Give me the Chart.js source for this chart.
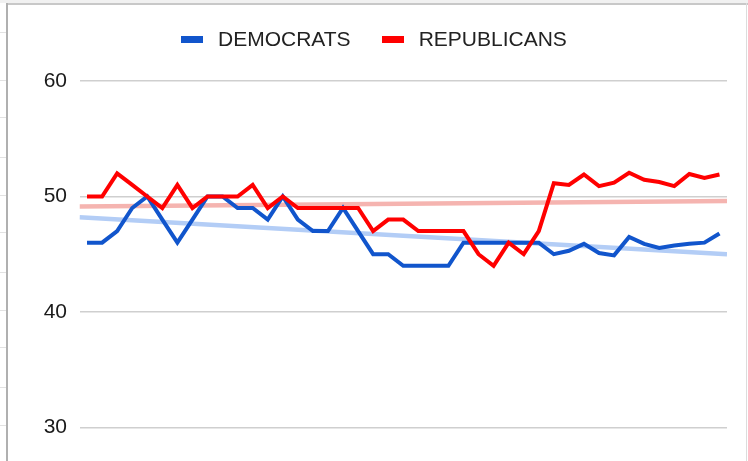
<!DOCTYPE html>
<html>
<head>
<meta charset="utf-8">
<script src="https://cdn.jsdelivr.net/npm/chart.js@4.4.1/dist/chart.umd.min.js"></script>
<style>
  html, body { margin: 0; padding: 0; background: #fff; overflow: hidden; width: 748px; height: 461px; }
  .sheet { position: absolute; background: #e2e2e2; }
  #wrap { position: absolute; left: 0; top: 0; width: 748px; height: 568px; }
  #legend { position: absolute; left: 181px; top: 28px; height: 22px; display: flex; align-items: center;
            font-family: "Liberation Sans", Arial, sans-serif; font-size: 21px; color: #222; }
  #legend .sw { display: inline-block; width: 22px; height: 7px; margin-right: 15px; }
  #legend .item { display: flex; align-items: center; margin-right: 31px; }
</style>
</head>
<body>
<div id="deco"></div>
<div id="wrap"><canvas id="grafico" width="748" height="568" style="width:748px;height:568px"></canvas></div>
<div id="legend">
  <span class="item"><span class="sw" style="background:#1155cc"></span>DEMOCRATS</span>
  <span class="item"><span class="sw" style="background:#ff0000"></span>REPUBLICANS</span>
</div>
<script>
// valores, uno por punto
const democratas = [46, 46, 47, 49, 50, 48, 46, 48, 50, 50, 49, 49, 48, 50, 48, 47, 47, 49, 47, 45, 45,
  44, 44, 44, 44, 46, 46, 46, 46, 46, 46, 45.0, 45.3, 45.9, 45.1, 44.9, 46.5, 45.9, 45.55, 45.75, 45.9, 46.0, 46.8];
const republicanos = [50, 50, 52, 51, 50, 49, 51, 49, 50, 50, 50, 51, 49, 50, 49, 49, 49, 49, 49, 47, 48,
  48, 47, 47, 47, 47, 45, 44, 46, 45, 47, 51.15, 51.0, 51.9, 50.9, 51.2, 52.05, 51.45, 51.25, 50.9, 51.95, 51.6, 51.9];

// líneas de tendencia (extremos)
const tendenciaX = [-0.5, 42.5];
const tendenciaDem = [48.2, 45.0];
const tendenciaRep = [49.13, 49.6];

const ticksY = [20, 30, 40, 50, 60];

// lineas de la hoja de cálculo detrás del gráfico
const deco = document.getElementById("deco");
[32, 80, 117, 157, 195, 232, 272, 310, 347, 387, 425].forEach(y => {
  const d = document.createElement("div");
  d.className = "sheet";
  d.style.cssText = `left:0;top:${y}px;width:7px;height:1px;`;
  deco.appendChild(d);
});
[195, 380, 565].forEach(x => {
  const d = document.createElement("div");
  d.className = "sheet";
  d.style.cssText = `left:${x}px;top:0;width:1px;height:3px;`;
  deco.appendChild(d);
});
// borde del gráfico
deco.insertAdjacentHTML("beforeend",
  '<div style="position:absolute;left:0;top:0;width:748px;height:3px;background:#f1f1f1"></div>' +
  '<div style="position:absolute;left:7px;top:3px;width:741px;height:2px;background:#c8c8c8"></div>' +
  '<div style="position:absolute;left:6px;top:3px;width:2px;height:458px;background:#b0b0b0"></div>' +
  '<div style="position:absolute;left:746px;top:3px;width:1px;height:458px;background:#dcdcdc"></div>');

const puntos = arr => arr.map((v, i) => ({ x: i, y: v }));
const tendencia = arr => arr.map((v, i) => ({ x: tendenciaX[i], y: v }));

const ctx = document.getElementById("grafico").getContext("2d");
new Chart(ctx, {
  type: "line",
  data: {
    datasets: [
      { label: "REPUBLICANS", data: puntos(republicanos), borderColor: "#ff0000", borderWidth: 4, order: 1 },
      { label: "DEMOCRATS", data: puntos(democratas), borderColor: "#1155cc", borderWidth: 4, order: 2 },
      { label: "tendRep", data: tendencia(tendenciaRep), borderColor: "#f5b4b0", borderWidth: 4.5, order: 3 },
      { label: "tendDem", data: tendencia(tendenciaDem), borderColor: "#b3cdf6", borderWidth: 4.5, order: 4 },
    ],
  },
  options: {
    responsive: false,
    animation: false,
    elements: { point: { radius: 0 }, line: { tension: 0, borderJoinStyle: "miter" } },
    layout: { padding: { left: 0, right: 21, top: 81, bottom: 17.8 } },
    plugins: { legend: { display: false }, tooltip: { enabled: false } },
    scales: {
      x: { type: "linear", min: -0.5, max: 42.5, display: false },
      y: {
        min: 20,
        max: 60,
        afterFit: scale => { scale.width = 79.5; },
        afterBuildTicks: scale => { scale.ticks = ticksY.map(v => ({ value: v })); },
        border: { display: false },
        grid: { color: "#cfcfcf", lineWidth: 1.5, drawTicks: false },
        ticks: {
          padding: 12.5,
          color: "#1a1a1a",
          font: { size: 21, family: "'Liberation Sans', Arial, sans-serif" },
        },
      },
    },
  },
});
</script>
</body>
</html>
